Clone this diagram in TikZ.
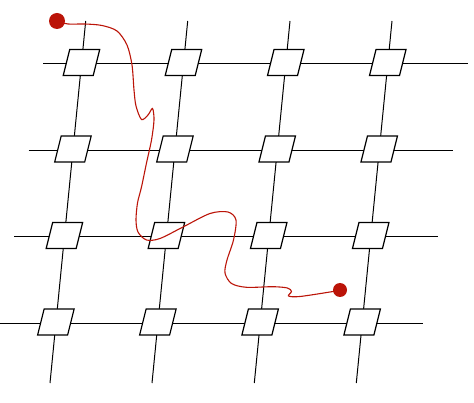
\documentclass[tikz,border=0pt]{standalone}
\definecolor{wred}{RGB}{187,20,8}
\begin{document}
\begin{tikzpicture}[x=1pt,y=-1pt,
  wire/.style={line width=1pt, black},
  cell/.style={draw, line width=1.2pt, fill=white, line join=miter},
  redcurve/.style={line width=1.1pt, wred},
  dot/.style={circle, fill=wred, inner sep=0pt}]
\useasboundingbox (0,0) rectangle (474,403);
% column and row end points
\foreach \i/\xt in {1/85.7,2/187.7,3/290,4/392}{
  \coordinate (ct\i) at (\xt,21);
  \coordinate (cb\i) at ({\xt-35.7},383);
  \draw[wire] (ct\i) -- (cb\i);
}
\foreach \j/\y/\xl/\xr in {1/64/43/468,2/150.5/28.5/453,3/237/14/438,4/323.5/0/422.5}{
  \coordinate (rl\j) at (\xl,\y);
  \coordinate (rr\j) at (\xr,\y);
  \draw[wire] (rl\j) -- (rr\j);
}
% cells
\foreach \i/\xt in {1/85.7,2/187.7,3/290,4/392}{
  \foreach \j/\y in {1/64,2/150.5,3/237,4/323.5}{
    \coordinate (n\j\i) at ({\xt-0.0986*(\y-21)},{\y-1.5});
    \draw[cell] ([shift={(-11.75,-13)}]n\j\i) -- ([shift={(18.25,-13)}]n\j\i)
      -- ([shift={(11.75,13)}]n\j\i) -- ([shift={(-18.25,13)}]n\j\i) -- cycle;
  }
}
% red path
\coordinate (s) at (57,21);
\coordinate (e) at (340,290);
\draw[redcurve] plot[smooth, tension=0.5] coordinates {(s) (68,24) (85,24) (102,25.5) (117,31) (127,45) (132,65) (134,90) (136,106) (141.5,119.5) (148,115) (152.5,108.5) (154,120) (151.5,140) (146.5,163) (141.5,187) (137.5,203) (136,220) (138,232) (146.5,240) (160,238.5) (183,227) (210,213.5) (228,212) (236,220) (233.5,240) (227,260) (225,273) (231.5,283.5) (246.5,287.3) (273,286.7) (287.5,288) (291.5,291.5) (288.5,296) (300,296.5) (333,291.5) (e)};
\node[dot, minimum size=16pt] (sd) at (s) {};
\node[dot, minimum size=14pt] (ed) at (e) {};
\end{tikzpicture}
\end{document}
